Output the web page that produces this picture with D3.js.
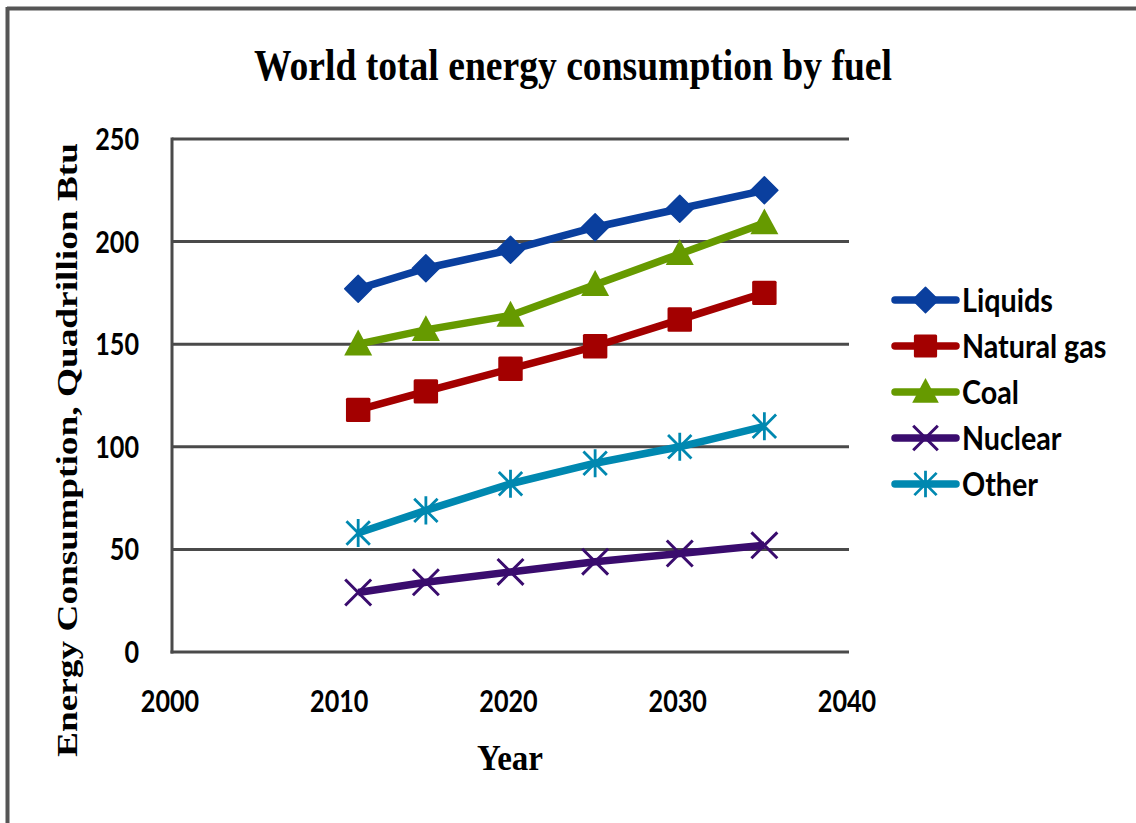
<!DOCTYPE html>
<html>
<head>
<meta charset="utf-8">
<script src="https://cdn.jsdelivr.net/npm/d3@7"></script>
<style>
  html, body { margin: 0; padding: 0; background: #fff; }
  svg { display: block; }
</style>
</head>
<body>
<svg id="chart" width="1136" height="823"></svg>
<script>
const years = [2011, 2015, 2020, 2025, 2030, 2035];
const seriesNames = ["Liquids", "Natural gas", "Coal", "Nuclear", "Other"];
const liquids    = [177, 187, 196, 207, 216, 225];
const naturalGas = [118, 127, 138, 149, 162, 175];
const coal       = [150, 157, 164, 179, 194, 209];
const nuclear    = [29, 34, 39, 44, 48, 52];
const other      = [58, 69, 82, 92, 100, 110];
const xTicks = [2000, 2010, 2020, 2030, 2040];
const yTicks = [0, 50, 100, 150, 200, 250];
const colors = ["#0a3f9e", "#a30000", "#669a00", "#3a0c6e", "#0088b0"];
const symbols = ["diamond", "square", "triangle", "x", "asterisk"];

const seriesValues = [liquids, naturalGas, coal, nuclear, other];
const series = seriesNames.map((name, i) => ({
  name, color: colors[i], symbol: symbols[i],
  points: years.map((y, j) => ({ year: y, value: seriesValues[i][j] }))
}));

const svg = d3.select("#chart");
const W = 1136, H = 823;
const plot = { left: 172, right: 849, top: 139, bottom: 652 };

// frame (top and left borders)
svg.append("line").attr("x1", 7).attr("x2", W).attr("y1", 8.5).attr("y2", 8.5)
  .attr("stroke", "#555").attr("stroke-width", 4);
svg.append("line").attr("x1", 7.5).attr("x2", 7.5).attr("y1", 7).attr("y2", H)
  .attr("stroke", "#555").attr("stroke-width", 4);

const x = d3.scaleLinear().domain([2000, 2040]).range([plot.left, plot.right]);
const y = d3.scaleLinear().domain([0, 250]).range([plot.bottom, plot.top]);

// gridlines
svg.append("g").selectAll("line").data(yTicks.filter(t => t > 0)).join("line")
  .attr("x1", plot.left).attr("x2", plot.right)
  .attr("y1", d => y(d)).attr("y2", d => y(d))
  .attr("stroke", "#4a4a4a").attr("stroke-width", 3);

// axes lines
svg.append("line").attr("x1", x(2000)).attr("x2", x(2000)).attr("y1", y(250) - 1.5).attr("y2", y(0) + 1.5)
  .attr("stroke", "#4a4a4a").attr("stroke-width", 3);
svg.append("line").attr("x1", x(2000) - 1.5).attr("x2", x(2040)).attr("y1", y(0)).attr("y2", y(0))
  .attr("stroke", "#4a4a4a").attr("stroke-width", 3);

const tickFont = "Lato, 'Open Sans', sans-serif";
const condense = 0.84;

// y tick labels
svg.append("g").selectAll("text").data(yTicks).join("text")
  .attr("transform", d => `translate(139,${y(d) + 11}) scale(${condense},1)`)
  .attr("text-anchor", "end")
  .attr("font-family", tickFont).attr("font-weight", "bold").attr("font-size", 30)
  .attr("fill", "#000")
  .text(d => d);

// x tick labels
svg.append("g").selectAll("text").data(xTicks).join("text")
  .attr("transform", d => `translate(${x(d) - 2},712) scale(${condense},1)`)
  .attr("text-anchor", "middle")
  .attr("font-family", tickFont).attr("font-weight", "bold").attr("font-size", 30)
  .attr("fill", "#000")
  .text(d => d);

// title
svg.append("text").attr("x", 573).attr("y", 80)
  .attr("text-anchor", "middle")
  .attr("font-family", "'Liberation Serif', 'Times New Roman', serif")
  .attr("font-weight", "bold").attr("font-size", 44)
  .attr("textLength", 638).attr("lengthAdjust", "spacingAndGlyphs")
  .text("World total energy consumption by fuel");

// x axis title
svg.append("text").attr("x", 510).attr("y", 770)
  .attr("text-anchor", "middle")
  .attr("font-family", "'Liberation Serif', 'Times New Roman', serif")
  .attr("font-weight", "bold").attr("font-size", 36)
  .attr("textLength", 66).attr("lengthAdjust", "spacingAndGlyphs")
  .text("Year");

// y axis title
svg.append("text")
  .attr("transform", "translate(77,450) rotate(-90)")
  .attr("text-anchor", "middle")
  .attr("font-family", "'Liberation Serif', 'Times New Roman', serif")
  .attr("font-weight", "bold").attr("font-size", 29)
  .attr("textLength", 614).attr("lengthAdjust", "spacingAndGlyphs")
  .text("Energy Consumption, Quadrillion Btu");

// marker drawing
function drawMarker(g, sym, color, size) {
  const s = size;
  if (sym === "diamond") {
    g.append("path").attr("d", `M0,${-s/2}L${s/2},0L0,${s/2}L${-s/2},0Z`)
      .attr("fill", color).attr("stroke", color).attr("stroke-width", 1.5).attr("stroke-linejoin", "round");
  } else if (sym === "square") {
    const h = s * 0.47;
    g.append("rect").attr("x", -h).attr("y", -h).attr("width", 2*h).attr("height", 2*h)
      .attr("rx", 1.5).attr("fill", color);
  } else if (sym === "triangle") {
    const h = s * 0.5;
    g.append("path").attr("d", `M0,${-h*1.05}L${h},${h*0.8}L${-h},${h*0.8}Z`).attr("fill", color);
  } else if (sym === "x") {
    const h = s * 0.48;
    g.append("path").attr("d", `M${-h},${-h}L${h},${h}M${h},${-h}L${-h},${h}`)
      .attr("stroke", color).attr("stroke-width", 3).attr("fill", "none");
  } else if (sym === "asterisk") {
    const h = s * 0.45;
    g.append("path").attr("d", `M${-h},${-h}L${h},${h}M${h},${-h}L${-h},${h}M0,${-h*1.2}L0,${h*1.2}`)
      .attr("stroke", color).attr("stroke-width", 2.8).attr("fill", "none");
  }
}

const line = d3.line().x(d => x(d.year)).y(d => y(d.value));

const markerSize = { diamond: 27, square: 26, triangle: 28, x: 27, asterisk: 26 };

series.forEach(s => {
  const g = svg.append("g");
  g.append("path").datum(s.points).attr("d", line)
    .attr("fill", "none").attr("stroke", s.color).attr("stroke-width", 7.5)
    .attr("stroke-linejoin", "round");
  g.selectAll("g.m").data(s.points).join("g").attr("class", "m")
    .attr("transform", d => `translate(${x(d.year)},${y(d.value)})`)
    .each(function() { drawMarker(d3.select(this), s.symbol, s.color, markerSize[s.symbol]); });
});

// legend
const legend = svg.append("g");
series.forEach((s, i) => {
  const ly = 300 + i * 46;
  const g = legend.append("g");
  g.append("line").attr("x1", 895).attr("x2", 956).attr("y1", ly).attr("y2", ly)
    .attr("stroke", s.color).attr("stroke-width", 7.5).attr("stroke-linecap", "round");
  const mg = g.append("g").attr("transform", `translate(925.5,${ly})`);
  drawMarker(mg, s.symbol, s.color, markerSize[s.symbol] * 0.95);
  g.append("text").attr("transform", `translate(962,${ly + 12}) scale(0.87,1)`)
    .attr("font-family", tickFont).attr("font-weight", "bold").attr("font-size", 33)
    .attr("fill", "#000")
    .text(s.name);
});
</script>
</body>
</html>
